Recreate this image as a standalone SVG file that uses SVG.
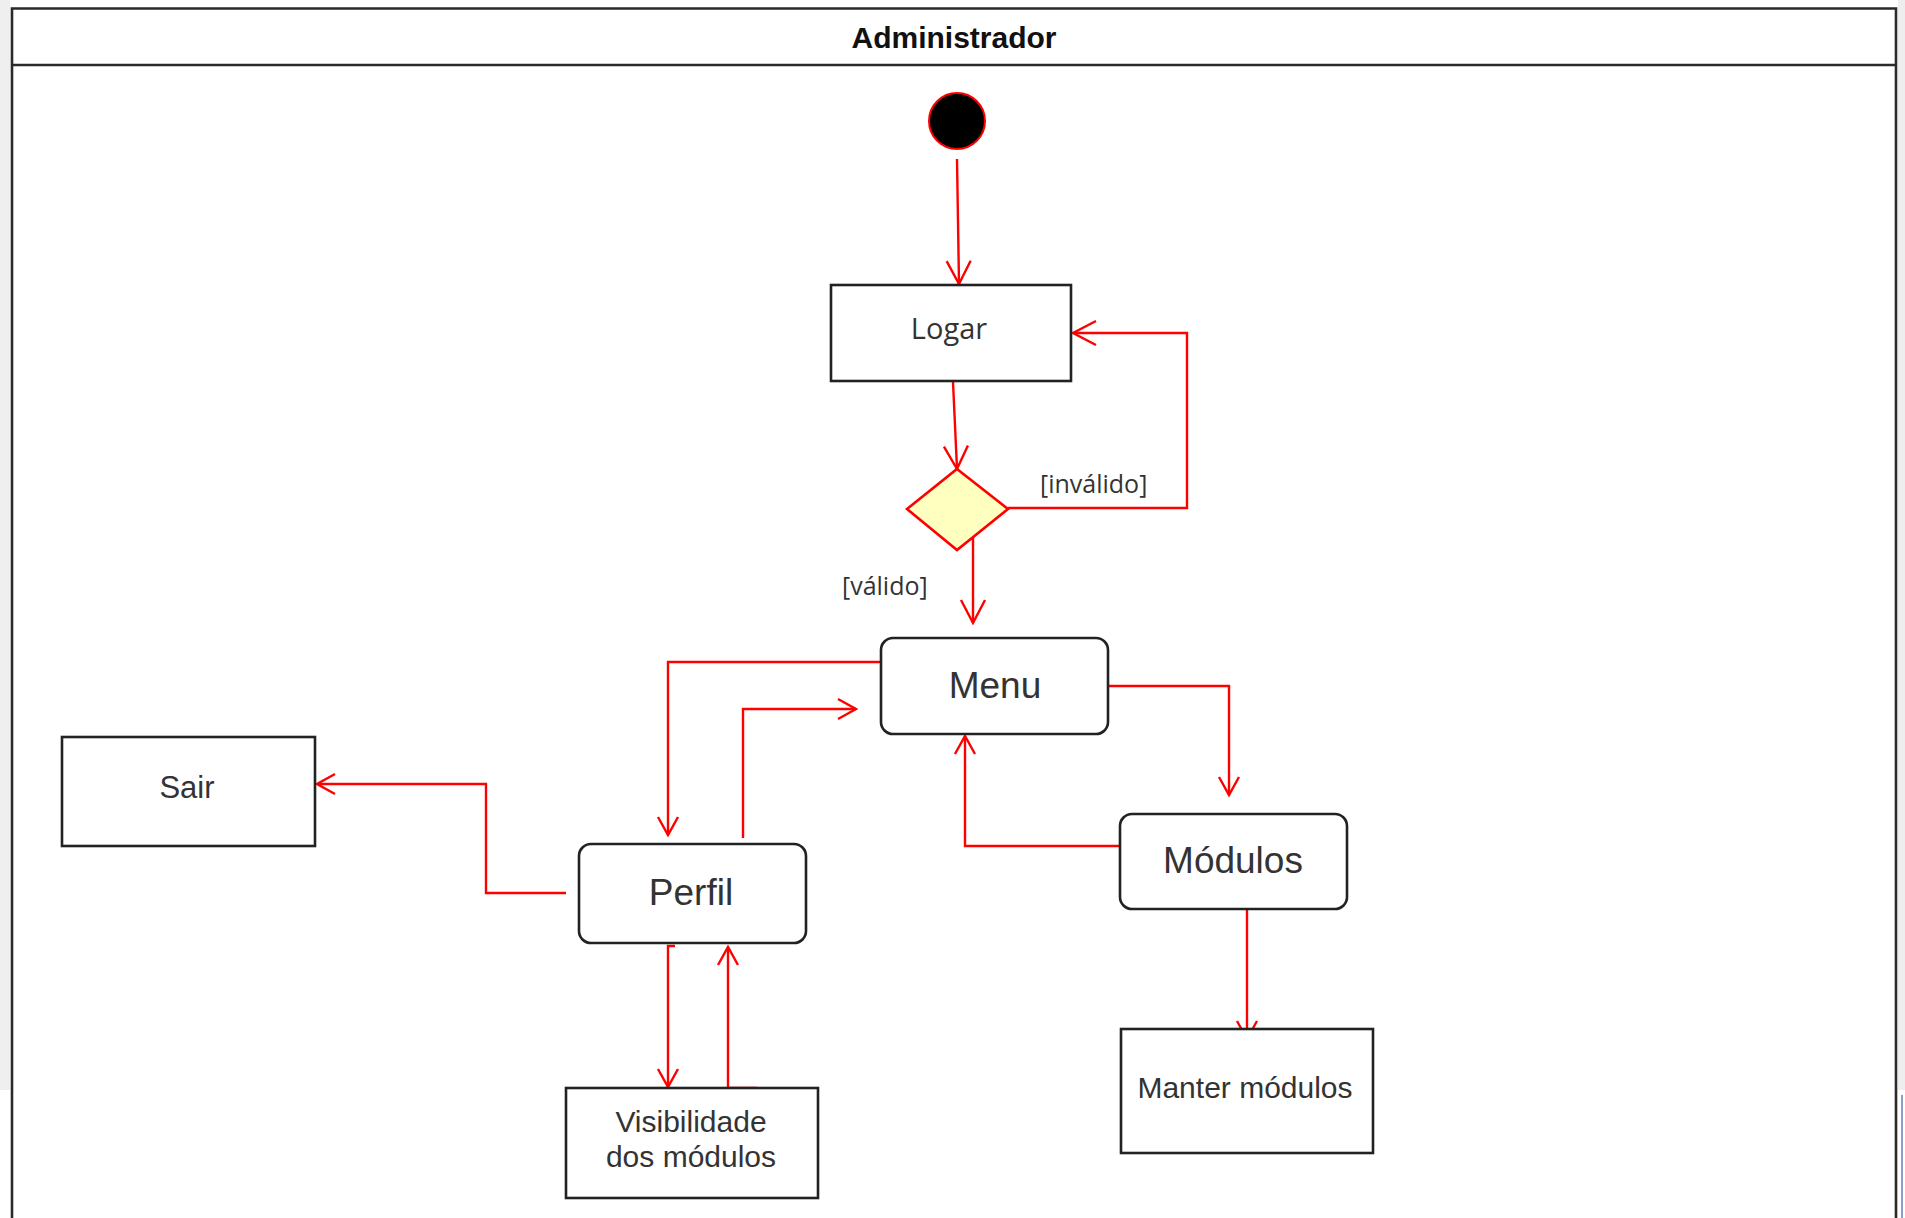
<svg xmlns="http://www.w3.org/2000/svg" width="1905" height="1218" viewBox="0 0 1905 1218">
<style>
.box{fill:#ffffff;stroke:#222222;stroke-width:2.6}
.lbl{font-family:"Liberation Sans",Arial,sans-serif;fill:#333333;text-anchor:middle}
.big{font-size:37px}
.mid{font-size:30px}
.seg{font-family:"Open Sans","Noto Sans",sans-serif;fill:#333333}
.edge{fill:none;stroke:#ff0000;stroke-width:2.4}
.frame{fill:none;stroke:#2a2a2a;stroke-width:2.6}
</style>
<defs>
<marker id="arrL" viewBox="-26 -15 29 30" refX="0" refY="0" markerWidth="29" markerHeight="30" markerUnits="userSpaceOnUse" orient="auto">
<path d="M-23,-12 L0,0 L-23,12" fill="none" stroke="#ff0000" stroke-width="2.4"/>
</marker>
<marker id="arr" viewBox="-21 -13 24 26" refX="0" refY="0" markerWidth="24" markerHeight="26" markerUnits="userSpaceOnUse" orient="auto">
<path d="M-18,-10 L0,0 L-18,10" fill="none" stroke="#ff0000" stroke-width="2.4"/>
</marker>
</defs>
<rect x="0" y="0" width="1905" height="1218" fill="#ffffff"/>
<rect x="0" y="0" width="10" height="1090" fill="#efefef"/>
<rect x="1898" y="0" width="7" height="1090" fill="#eeeeee"/>
<line x1="1902" y1="1095" x2="1902" y2="1218" stroke="#6b7fb5" stroke-width="1.5"/>

<g id="pool">
<path class="frame" d="M12,1218 V8.5 H1896 V1218"/>
<line class="frame" x1="12" y1="65" x2="1896" y2="65"/>
<text x="954" y="48" font-family="Liberation Sans, Arial, sans-serif" font-size="30" font-weight="bold" fill="#111111" text-anchor="middle">Administrador</text>
</g>

<g id="connectors">
<path class="edge" d="M957,159 L959,284" marker-end="url(#arrL)"/>
<path class="edge" d="M953,382 L957,469" marker-end="url(#arrL)"/>
<path class="edge" d="M1008,508 H1187 V333 H1073" marker-end="url(#arrL)"/>
<path class="edge" d="M973,534 V623" marker-end="url(#arrL)"/>
<path class="edge" d="M881,662 H668 V835" marker-end="url(#arr)"/>
<path class="edge" d="M743,838 V709 H856" marker-end="url(#arr)"/>
<path class="edge" d="M1108,686 H1229 V795" marker-end="url(#arr)"/>
<path class="edge" d="M1120,846 H965 V736" marker-end="url(#arr)"/>
<path class="edge" d="M1247,910 V1039" marker-end="url(#arr)"/>
<path class="edge" d="M566,893 H486 V784 H317" marker-end="url(#arr)"/>
<path class="edge" d="M675,946 H668 V1087" marker-end="url(#arr)"/>
<path class="edge" d="M757,1088 H728 V947" marker-end="url(#arr)"/>
<text class="seg" x="1040" y="493" font-size="25">[inválido]</text>
<text class="seg" x="842" y="595" font-size="25">[válido]</text>
</g>

<g id="start">
<circle cx="957" cy="121" r="28" fill="#000000" stroke="#ff0000" stroke-width="2"/>
</g>

<g id="logar">
<rect class="box" x="831" y="285" width="240" height="96"/>
<text class="seg" x="949" y="339" font-size="29" text-anchor="middle">Logar</text>
</g>

<g id="decision">
<polygon points="957,469 1008,509 957,550 907,509" fill="#ffffc0" stroke="#ff0000" stroke-width="2.6"/>
</g>

<g id="menu">
<rect class="box" x="881" y="638" width="227" height="96" rx="12" ry="12"/>
<text class="lbl big" x="995" y="698">Menu</text>
</g>

<g id="perfil">
<rect class="box" x="579" y="844" width="227" height="99" rx="12" ry="12"/>
<text class="lbl big" x="691" y="905">Perfil</text>
</g>

<g id="modulos">
<rect class="box" x="1120" y="814" width="227" height="95" rx="12" ry="12"/>
<text class="lbl big" x="1233" y="873">Módulos</text>
</g>

<g id="sair">
<rect class="box" x="62" y="737" width="253" height="109"/>
<text class="lbl" x="187" y="798" font-size="31">Sair</text>
</g>

<g id="visibilidade">
<rect class="box" x="566" y="1088" width="252" height="110"/>
<text class="lbl mid" x="691" y="1132">Visibilidade</text>
<text class="lbl mid" x="691" y="1167">dos módulos</text>
</g>

<g id="manter">
<rect class="box" x="1121" y="1029" width="252" height="124"/>
<text class="lbl mid" x="1245" y="1098">Manter módulos</text>
</g>
</svg>
